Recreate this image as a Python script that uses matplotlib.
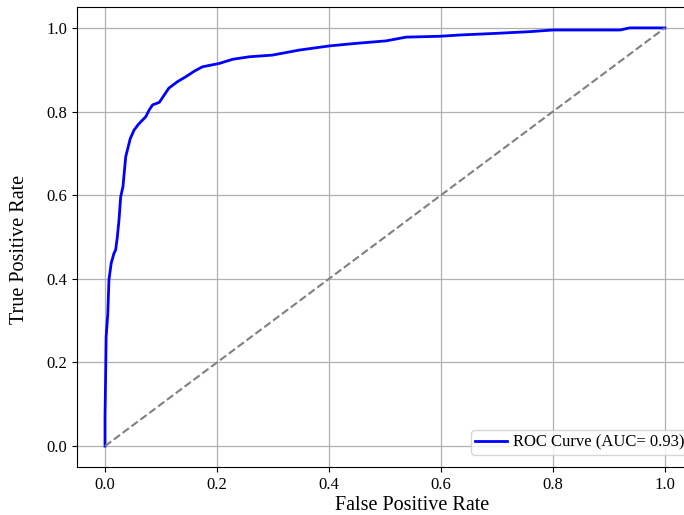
import matplotlib.pyplot as plt

plt.rcParams['font.family'] = ['Liberation Serif', 'DejaVu Serif']

# ROC points
fpr = [0, 0, 0.001, 0.002, 0.005, 0.007, 0.011, 0.016, 0.019, 0.022, 0.025,
       0.028, 0.032, 0.037, 0.045, 0.052, 0.060, 0.073, 0.079, 0.085, 0.097,
       0.114, 0.130, 0.144, 0.160, 0.174, 0.204, 0.228, 0.258, 0.299, 0.347,
       0.401, 0.448, 0.502, 0.538, 0.598, 0.633, 0.699, 0.758, 0.80, 0.92,
       0.937, 1.0]
tpr = [0, 0.07, 0.158, 0.261, 0.317, 0.397, 0.437, 0.461, 0.469, 0.50, 0.541,
       0.596, 0.62, 0.692, 0.735, 0.756, 0.770, 0.788, 0.804, 0.816, 0.822,
       0.856, 0.872, 0.883, 0.897, 0.907, 0.915, 0.925, 0.931, 0.935, 0.947,
       0.957, 0.963, 0.969, 0.978, 0.980, 0.983, 0.987, 0.991, 0.995, 0.995,
       1.0, 1.0]
auc = 0.93
diag = [0, 1]

fig = plt.figure(figsize=(6.84, 5.15), dpi=100)
ax = fig.add_axes([0.1126, 0.0932, 0.9004, 0.8932])

ax.plot(fpr, tpr, color='blue', lw=2, label='ROC Curve (AUC= %.2f)' % auc)
ax.plot(diag, diag, color='gray', lw=1.5, linestyle='--')
ax.set_xlim(-0.05, 1.05)
ax.set_ylim(-0.05, 1.05)
ax.grid(True, color='#b0b0b0', lw=0.9)
ax.tick_params(labelsize=12)
ax.set_xlabel('False Positive Rate', fontsize=14.5)
ax.set_ylabel('True Positive Rate', fontsize=14.5)
ax.xaxis.set_label_coords(0.544, -0.062)
ax.yaxis.set_label_coords(-0.078, 0.472)
ax.legend(loc='lower right', fontsize=12, borderpad=0.25, handletextpad=0.35,
          handlelength=1.9, bbox_to_anchor=(1.0065, 0.009))

fig.savefig('out.png', dpi=100)
